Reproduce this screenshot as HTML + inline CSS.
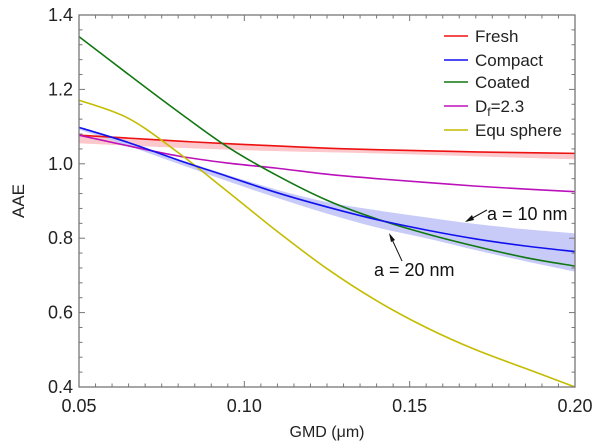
<!DOCTYPE html>
<html><head><meta charset="utf-8"><style>
html,body{margin:0;padding:0;background:#fff}
svg{display:block;font-family:"Liberation Sans",Arial,sans-serif}
</style></head><body>
<svg id="chart" width="600" height="444" viewBox="0 0 600 444" xmlns="http://www.w3.org/2000/svg"></svg>
<script>
const gmd = [0.05,0.065,0.08,0.095,0.11,0.125,0.14,0.155,0.17,0.185,0.20];
const fresh = [1.077,1.069,1.061,1.054,1.048,1.042,1.038,1.035,1.032,1.030,1.028];
const freshLower = [1.055,1.049,1.043,1.038,1.034,1.031,1.028,1.024,1.020,1.016,1.012];
const compact = [1.098,1.057,1.010,0.966,0.922,0.884,0.850,0.822,0.798,0.779,0.764];
const compactUpper = [1.098,1.058,1.013,0.970,0.930,0.897,0.875,0.856,0.838,0.824,0.813];
const compactLower = [1.092,1.048,1.000,0.953,0.908,0.866,0.829,0.800,0.768,0.738,0.710];
const coated = [1.342,1.240,1.140,1.045,0.968,0.902,0.852,0.812,0.778,0.748,0.725];
const df23 = [1.077,1.048,1.021,1.002,0.988,0.972,0.960,0.950,0.940,0.932,0.925];
const equSphere = [1.171,1.122,1.030,0.925,0.818,0.718,0.632,0.560,0.500,0.450,0.400];
const xTicks = [0.05,0.10,0.15,0.20];
const xTickLabels = ["0.05","0.10","0.15","0.20"];
const yTicks = [0.4,0.6,0.8,1.0,1.2,1.4];
const yTickLabels = ["0.4","0.6","0.8","1.0","1.2","1.4"];

const NS="http://www.w3.org/2000/svg";
const svg=document.getElementById('chart');
const L=79,R=575,T=15,B=387;
const xs=v=>L+(v-0.05)/(0.15)*(R-L);
const ys=v=>B-(v-0.4)/(1.0)*(B-T);
function el(tag,attrs,parent){const e=document.createElementNS(NS,tag);for(const k in attrs)e.setAttribute(k,attrs[k]);(parent||svg).appendChild(e);return e;}
function smooth(pts){let d='M'+pts[0][0].toFixed(2)+','+pts[0][1].toFixed(2);
 for(let i=0;i<pts.length-1;i++){const p0=pts[Math.max(0,i-1)],p1=pts[i],p2=pts[i+1],p3=pts[Math.min(pts.length-1,i+2)];
 const c1=[p1[0]+(p2[0]-p0[0])/6,p1[1]+(p2[1]-p0[1])/6],c2=[p2[0]-(p3[0]-p1[0])/6,p2[1]-(p3[1]-p1[1])/6];
 d+=' C'+c1.map(v=>v.toFixed(2))+' '+c2.map(v=>v.toFixed(2))+' '+p2[0].toFixed(2)+','+p2[1].toFixed(2);}return d;}
const pts=arr=>gmd.map((g,i)=>[xs(g),ys(arr[i])]);
function band(up,lo,fill,name){const a=pts(up),b=pts(lo).reverse();
 let d=smooth(a);const db=smooth(b);d+=' L'+db.slice(1)+' Z';
 const p=el('path',{d:d,fill:fill,stroke:'none'});
 
 }
band(fresh,freshLower,'#fcc8cc','fresh-band');
band(compactUpper,compactLower,'#c8cbf8','compact-band');
const series=[[fresh,'#ee1111','fresh-line'],[df23,'#bb11bb','df-2-3-line'],[equSphere,'#c4bc00','equ-sphere-line'],[coated,'#117711','coated-line'],[compact,'#1111ee','compact-line']];
series.forEach(s=>{const p=el('path',{d:smooth(pts(s[0])),fill:'none',stroke:s[1],'stroke-width':1.6});
 
 });
const fr=el('rect',{x:L,y:T,width:R-L,height:B-T,fill:'none',stroke:'#777','stroke-width':1.3});


for(let i=0;i<=30;i++){const v=0.05+i*0.005,x=xs(v),maj=(i%10===0),len=maj?6:3.5;
 el('line',{x1:x,y1:B,x2:x,y2:B-len,stroke:'#777','stroke-width':1});
 el('line',{x1:x,y1:T,x2:x,y2:T+len,stroke:'#777','stroke-width':1});}
for(let i=0;i<=25;i++){const v=0.4+i*0.04,y=ys(v),maj=(i%5===0),len=maj?6:3.5;
 el('line',{x1:L,y1:y,x2:L+len,y2:y,stroke:'#777','stroke-width':1});
 el('line',{x1:R,y1:y,x2:R-len,y2:y,stroke:'#777','stroke-width':1});}
xTicks.forEach((v,i)=>{const t=el('text',{x:xs(v),y:B+25,'text-anchor':'middle','font-size':18,fill:'#222'});t.textContent=xTickLabels[i];
 
 });
yTicks.forEach((v,i)=>{const t=el('text',{x:L-6,y:ys(v)+6,'text-anchor':'end','font-size':18,fill:'#222'});t.textContent=yTickLabels[i];
 
 });
</script>
<svg style="position:absolute;left:0;top:0" width="600" height="444">
<text x="327" y="437" text-anchor="middle" font-size="16" fill="#222" font-family="Liberation Sans, sans-serif">GMD (μm)</text>
<text transform="translate(24,201) rotate(-90)" text-anchor="middle" font-size="17" fill="#222" font-family="Liberation Sans, sans-serif">AAE</text>
<g font-size="17" fill="#222" font-family="Liberation Sans, sans-serif">
<line x1="444" y1="36" x2="468" y2="36" stroke="#ee1111" stroke-width="1.6"/><text x="475" y="42">Fresh</text>
<line x1="444" y1="60" x2="468" y2="60" stroke="#1111ee" stroke-width="1.6"/><text x="475" y="66">Compact</text>
<line x1="444" y1="82" x2="468" y2="82" stroke="#117711" stroke-width="1.6"/><text x="475" y="88">Coated</text>
<line x1="444" y1="106" x2="468" y2="106" stroke="#bb11bb" stroke-width="1.6"/><text x="475" y="112">D<tspan font-size="12" dy="4">f</tspan><tspan dy="-4">=2.3</tspan></text>
<line x1="444" y1="130" x2="468" y2="130" stroke="#c4bc00" stroke-width="1.6"/><text x="475" y="136">Equ sphere</text>
</g>
<g font-size="18" fill="#111" font-family="Liberation Sans, sans-serif">
<line x1="487" y1="210" x2="467" y2="221" stroke="#111" stroke-width="1"/><path d="M465,222 L472,215 L474,220 Z" fill="#111"/>
<text x="487" y="220">a = 10 nm</text>
<line x1="402" y1="261" x2="390" y2="235" stroke="#111" stroke-width="1"/><path d="M389,233 L391,242 L395,240 Z" fill="#111"/>
<text x="374" y="276">a = 20 nm</text>
</g>
</svg>
</body></html>
